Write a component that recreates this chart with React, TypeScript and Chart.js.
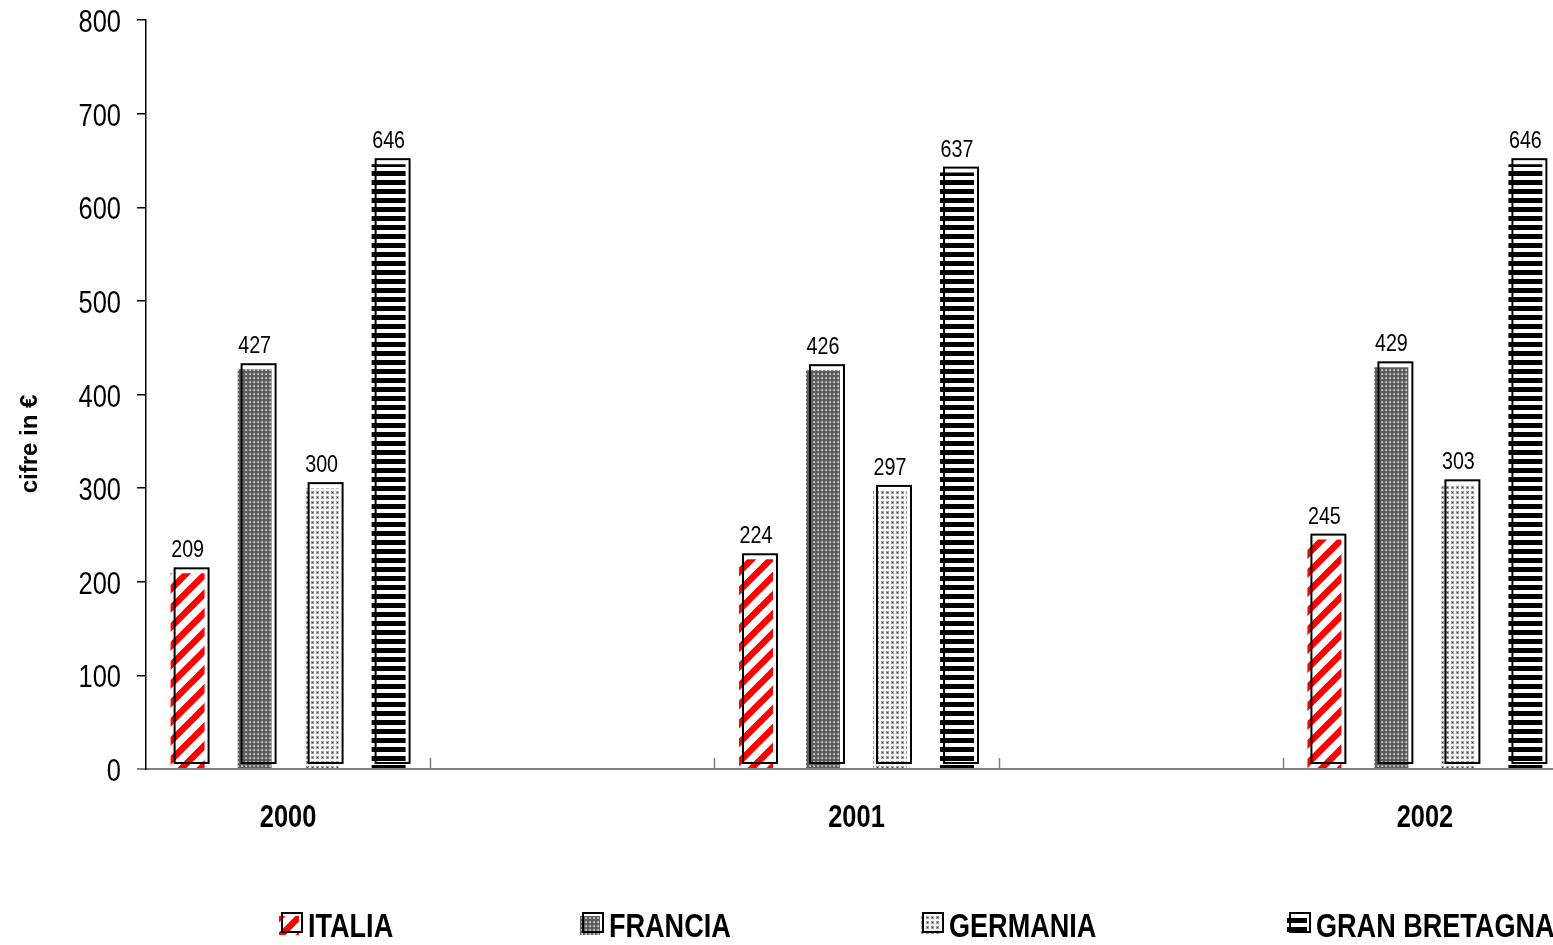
import React, { useEffect, useRef } from "react";
import { Chart, registerables } from "chart.js";
Chart.register(...registerables);

const categories = ["2000", "2001", "2002"];
const seriesNames = ["ITALIA", "FRANCIA", "GERMANIA", "GRAN BRETAGNA"];
const italia = [209, 224, 245];
const francia = [427, 426, 429];
const germania = [300, 297, 303];
const granBretagna = [646, 637, 646];
const yMin = 0;
const yMax = 800;
const yStep = 100;
const yTitle = "cifre in €";

const REG = '"Liberation Sans", Arial, sans-serif';
const SQUEEZE = 0.82; // Arial Narrow look
const LEGEND_BOX_X = [282, 583, 923, 1290];

function tile(w: number, h: number, draw: (c: CanvasRenderingContext2D) => void) {
  const cv = document.createElement("canvas");
  cv.width = w;
  cv.height = h;
  const c = cv.getContext("2d")!;
  draw(c);
  return cv;
}

function makePatterns(ctx: CanvasRenderingContext2D) {
  const it = tile(19, 19, (c) => {
    c.fillStyle = "#fff";
    c.fillRect(0, 0, 19, 19);
    c.strokeStyle = "#ff0000";
    c.lineWidth = 6.5;
    c.beginPath();
    for (const k of [0, 19, 38]) {
      c.moveTo(k + 3, -3);
      c.lineTo(k - 19 - 3, 19 + 3);
    }
    c.stroke();
  });
  const fr = tile(4, 4, (c) => {
    c.fillStyle = "#5e5e5e";
    c.fillRect(0, 0, 4, 4);
    c.fillStyle = "#adadad";
    c.fillRect(1, 1, 2, 2);
    c.fillStyle = "#d8d8d8";
    c.fillRect(2, 2, 1, 1);
  });
  const ge = tile(5, 5, (c) => {
    c.fillStyle = "#f4f4f4";
    c.fillRect(0, 0, 5, 5);
    c.fillStyle = "#a0a0a0";
    c.fillRect(1, 1, 3, 3);
    c.fillStyle = "#3c3c3c";
    c.fillRect(2, 2, 1, 1);
  });
  const gb = tile(9, 9, (c) => {
    c.fillStyle = "#fff";
    c.fillRect(0, 0, 9, 9);
    c.fillStyle = "#000";
    c.fillRect(0, 0, 9, 5);
  });
  return [it, fr, ge, gb].map((t) => ctx.createPattern(t, "repeat")!);
}

// spacer categories between the years (as in the original layout)
function spaced<T>(arr: T[], filler: T): T[] {
  return arr.flatMap((v, i) => (i < arr.length - 1 ? [v, filler] : [v]));
}

function narrowText(
  ctx: CanvasRenderingContext2D,
  text: string,
  x: number,
  y: number,
  font: string,
  align: CanvasTextAlign
) {
  ctx.save();
  ctx.font = font;
  ctx.fillStyle = "#000";
  ctx.textAlign = align;
  ctx.textBaseline = "alphabetic";
  ctx.translate(x, y);
  ctx.scale(SQUEEZE, 1);
  ctx.fillText(text, 0, 0);
  ctx.restore();
}

const DX = 4;
const DY = -5;

const decorPlugin = {
  id: "decor",
  afterDatasetsDraw(chart: any) {
    const ctx = chart.ctx as CanvasRenderingContext2D;
    ctx.save();
    chart.data.datasets.forEach((ds: any, di: number) => {
      const meta = chart.getDatasetMeta(di);
      meta.data.forEach((bar: any, i: number) => {
        const v = ds.data[i];
        if (v === null || v === undefined) return;
        const w = bar.width;
        ctx.strokeStyle = "#000";
        ctx.lineWidth = 2;
        ctx.strokeRect(bar.x - w / 2 + DX, bar.y + DY, w, bar.base - bar.y);
        narrowText(ctx, String(v), bar.x, bar.y - 16, `24px ${REG}`, "center");
      });
    });
    ctx.restore();
  },
  afterDraw(chart: any) {
    const ctx = chart.ctx as CanvasRenderingContext2D;
    const xs = chart.scales.x;
    const ys = chart.scales.y;
    const area = chart.chartArea;
    ctx.save();
    // inward category ticks
    ctx.strokeStyle = "#808080";
    ctx.lineWidth = 1.5;
    const n = chart.data.labels.length;
    for (let i = 1; i < n; i++) {
      const x = Math.round((xs.getPixelForTick(i - 1) + xs.getPixelForTick(i)) / 2) + 0.5;
      ctx.beginPath();
      ctx.moveTo(x, area.bottom - 11);
      ctx.lineTo(x, area.bottom);
      ctx.stroke();
    }
    // y tick labels
    ys.ticks.forEach((t: any) => {
      const y = ys.getPixelForValue(t.value);
      narrowText(ctx, String(t.value), area.left - 25, y + 12, `31px ${REG}`, "right");
    });
    // x category labels
    chart.data.labels.forEach((lab: string, i: number) => {
      if (!lab) return;
      narrowText(ctx, lab, xs.getPixelForTick(i), area.bottom + 58, `bold 31px ${REG}`, "center");
    });
    // y title
    ctx.save();
    ctx.translate(30, 444);
    ctx.rotate(-Math.PI / 2);
    ctx.font = `bold 24px ${REG}`;
    ctx.fillStyle = "#000";
    ctx.textAlign = "center";
    ctx.textBaseline = "middle";
    ctx.fillText(yTitle, 0, 0);
    ctx.restore();
    // legend
    const lf = `bold 33px ${REG}`;
    const box = 20;
    const top = 913;
    chart.data.datasets.forEach((ds: any, i: number) => {
      const x = LEGEND_BOX_X[i];
      ctx.fillStyle = ds.backgroundColor;
      ctx.fillRect(x - 3, top + 3, box, box - 1);
      ctx.strokeStyle = "#000";
      ctx.lineWidth = 2;
      ctx.strokeRect(x, top, box, box - 1);
      narrowText(ctx, ds.label, x + 26, 937, lf, "left");
    });
    ctx.restore();
  },
};

export default function App() {
  const ref = useRef<HTMLCanvasElement>(null);
  useEffect(() => {
    const canvas = ref.current!;
    const ctx = canvas.getContext("2d")!;
    const pats = makePatterns(ctx);
    const series = [italia, francia, germania, granBretagna];
    const chart = new Chart(canvas, {
      type: "bar",
      data: {
        labels: spaced(categories, ""),
        datasets: series.map((s, i) => ({
          label: seriesNames[i],
          data: spaced<number | null>(s, null),
          backgroundColor: pats[i] as any,
          borderWidth: 0,
          categoryPercentage: 0.943,
          barPercentage: 0.507,
        })),
      },
      options: {
        animation: false,
        responsive: true,
        maintainAspectRatio: false,
        layout: { padding: { top: 20, right: 13, left: 0, bottom: 0 } },
        plugins: { legend: { display: false }, tooltip: { enabled: false } },
        scales: {
          x: {
            ticks: { display: false, autoSkip: false, maxRotation: 0 },
            grid: { display: false },
            border: { color: "#808080", width: 2 },
            afterFit: (s: any) => {
              s.height = 176;
            },
          },
          y: {
            min: yMin,
            max: yMax,
            ticks: { display: false, stepSize: yStep },
            grid: {
              drawOnChartArea: false,
              drawTicks: true,
              tickLength: 9,
              color: (c: any) => (c.tick && c.tick.value === 0 ? "#808080" : "#000"),
              lineWidth: (c: any) => (c.tick && c.tick.value === 0 ? 2 : 1.5),
            },
            border: { color: "#000", width: 1.5 },
            afterFit: (s: any) => {
              s.width = 146;
            },
          },
        },
      },
      plugins: [decorPlugin],
    });
    return () => chart.destroy();
  }, []);
  return (
    <div style={{ position: "fixed", left: 0, top: 0, width: "100vw", height: "100vh", overflow: "hidden", background: "#fff" }}>
      <div style={{ position: "relative", width: 1580, height: 945 }}>
        <canvas ref={ref} />
      </div>
    </div>
  );
}
